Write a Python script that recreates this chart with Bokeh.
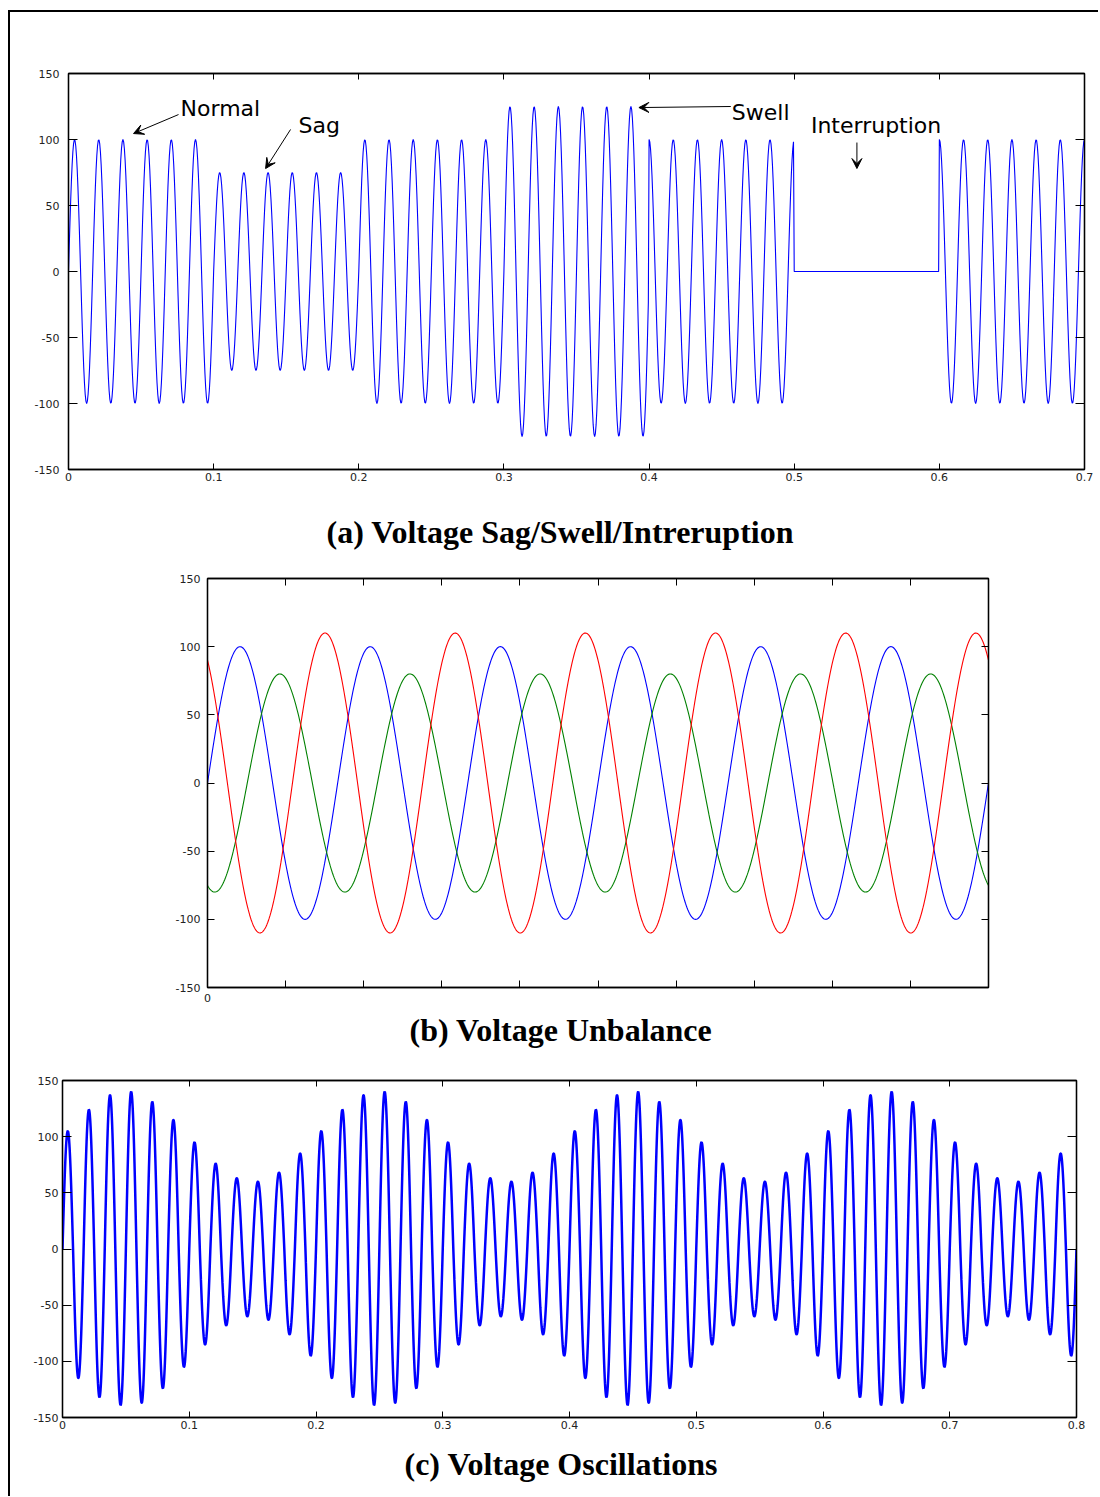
import numpy as np
from bokeh.plotting import figure
from bokeh.models import (LinearAxis, FixedTicker, Range1d, Title, Arrow, VeeHead,
                          ColumnDataSource)
from bokeh.layouts import column
from bokeh.embed import file_html
from bokeh.resources import INLINE
from bokeh.core.properties import value

# ---------------- data ----------------
freq_hz = 60

# (a) sag / swell / interruption : one amplitude and phase per 0.1 s segment
a_seg_start = [0.0, 0.1, 0.2, 0.3, 0.4, 0.5, 0.6]
a_seg_amp = [100, 75, 100, 125, 100, 0, 100]
a_seg_phase_deg = [0, 0, 0, 0, 90, 0, 90]
a_t_end = 0.7015
a_xticks = [0, 0.1, 0.2, 0.3, 0.4, 0.5, 0.6, 0.7]
a_xlabels = ["0", "0.1", "0.2", "0.3", "0.4", "0.5", "0.6", "0.7"]
y_ticks = [-150, -100, -50, 0, 50, 100, 150]
y_labels = ["-150", "-100", "-50", "0", "50", "100", "150"]

a_notes = ["Normal", "Sag", "Swell", "Interruption"]
a_note_x = [0.0772, 0.1585, 0.457, 0.5115]
a_note_y = [123.5, 110.6, 120.5, 110.6]
a_arrow_x0 = [0.0758, 0.153, 0.4563, 0.5432]
a_arrow_y0 = [118.9, 107.6, 125.0, 97.7]
a_arrow_x1 = [0.0448, 0.1358, 0.393, 0.5432]
a_arrow_y1 = [104.5, 78.0, 124.2, 78.0]

# (b) unbalance : three phases
b_amp = [100, 80, 110]
b_phase_deg = [0, 250, 125]
b_colors = ["#0000ff", "#008000", "#ff0000"]
b_xticks = [0, 0.01, 0.02, 0.03, 0.04, 0.05, 0.06, 0.07, 0.08, 0.09, 0.1]
b_labeled_xticks = [0]
b_labeled_xlabels = ["0"]

# (c) oscillations : half-cycle peak magnitudes over one 0.2 s envelope period
c_halfcycle_peak = [105, 115, 124, 132, 137, 139, 140, 137, 131, 124, 115, 105,
                    95, 85, 76, 68, 63, 60, 60, 63, 68, 76, 85, 95]
c_periods = 4
c_xticks = [0, 0.1, 0.2, 0.3, 0.4, 0.5, 0.6, 0.7, 0.8]
c_xlabels = ["0", "0.1", "0.2", "0.3", "0.4", "0.5", "0.6", "0.7", "0.8"]

captions = ["(a) Voltage Sag/Swell/Intreruption", "(b) Voltage Unbalance",
            "(c) Voltage Oscillations"]

# ---------------- waveforms ----------------
w = 2 * np.pi * freq_hz

ta = np.round(np.arange(0, a_t_end, 0.0005), 7)
idx = np.clip(np.searchsorted(np.array(a_seg_start), ta + 1e-9, side="right") - 1, 0, len(a_seg_start) - 1)
amp_a = np.array(a_seg_amp, dtype=float)[idx]
ph_a = np.radians(np.array(a_seg_phase_deg, dtype=float))[idx]
va = amp_a * np.sin(w * ta + ph_a)

tb = np.linspace(0, 0.1, 1001)

tc = np.linspace(0, 0.8, 4001)
peaks_c = np.tile(np.array(c_halfcycle_peak, dtype=float), c_periods)
kc = np.clip((tc * 2 * freq_hz).astype(int), 0, len(peaks_c) - 1)
vc = peaks_c[kc] * np.sin(w * tc)

LABEL_FONT = "DejaVu Sans"
CAP_FONT = "Liberation Serif"
BORDER = "2px solid black"


def hide_labels(ax):
    ax.major_label_text_font_size = "1px"
    ax.major_label_text_color = None
    ax.major_label_standoff = 0


def style(p, xticks, xlabels, x_tick_len, y_tick_len, lab_size, x_standoff, y_standoff):
    p.grid.visible = False
    p.outline_line_color = "black"
    p.outline_line_width = 1.3
    p.background_fill_color = "white"
    p.border_fill_color = "white"
    p.add_layout(LinearAxis(), "above")
    p.add_layout(LinearAxis(), "right")
    for ax in p.xaxis:
        ax.ticker = FixedTicker(ticks=xticks)
        ax.major_tick_in = x_tick_len
        ax.major_tick_out = 0
        ax.minor_tick_line_color = None
        ax.axis_line_color = "black"
        ax.axis_line_width = 1.3
        ax.major_tick_line_color = "black"
        ax.major_label_text_font = LABEL_FONT
        ax.major_label_text_font_size = lab_size
        ax.major_label_text_color = "#222222"
        ax.major_label_standoff = x_standoff
        if xlabels is not None:
            ax.major_label_overrides = {t: l for t, l in zip(xticks, xlabels)}
    for ax in p.yaxis:
        ax.ticker = FixedTicker(ticks=y_ticks)
        ax.major_tick_in = y_tick_len
        ax.major_tick_out = 0
        ax.minor_tick_line_color = None
        ax.axis_line_color = "black"
        ax.axis_line_width = 1.3
        ax.major_tick_line_color = "black"
        ax.major_label_text_font = LABEL_FONT
        ax.major_label_text_font_size = lab_size
        ax.major_label_text_color = "#222222"
        ax.major_label_standoff = y_standoff
        ax.major_label_overrides = {t: l for t, l in zip(y_ticks, y_labels)}
    hide_labels(p.above[0])
    hide_labels(p.right[0])


def caption(p, text, offset, standoff, side, valign="bottom"):
    p.add_layout(Title(text=text, align="left", offset=offset, standoff=standoff,
                       vertical_align=valign,
                       text_font=CAP_FONT, text_font_size="32px",
                       text_font_style="bold", text_color="black"), side)


W = 1088

# ---------------- (a) ----------------
pa = figure(width=W, height=473, x_range=Range1d(0, 0.7), y_range=Range1d(-150, 150),
            output_backend="svg", toolbar_location=None,
            min_border_left=58, min_border_right=14, min_border_top=61, min_border_bottom=16)
style(pa, a_xticks, a_xlabels, 6, 9, "11px", 3, 9)
pa.line(ta, va, line_color="#0000ff", line_width=1.1)
src_n = ColumnDataSource(dict(x=a_note_x, y=a_note_y, t=a_notes))
pa.text(x="x", y="y", text="t", source=src_n, text_font=value(LABEL_FONT),
        text_font_size="22px", text_baseline="middle", text_align="left", text_color="black")
src_ar = ColumnDataSource(dict(x0=a_arrow_x0, y0=a_arrow_y0, x1=a_arrow_x1, y1=a_arrow_y1))
pa.add_layout(Arrow(end=VeeHead(size=10, fill_color="black", line_color="black", line_width=1),
                    x_start="x0", y_start="y0", x_end="x1", y_end="y1", source=src_ar,
                    line_color="black", line_width=1))

# ---------------- (b) ----------------
pb = figure(width=W, height=570, x_range=Range1d(0, 0.1), y_range=Range1d(-150, 150),
            output_backend="svg", toolbar_location=None,
            min_border_left=197, min_border_right=110, min_border_top=93, min_border_bottom=68)
style(pb, b_xticks, None, 7, 7, "11px", 0, 7)
hide_labels(pb.below[0])
extra_b = LinearAxis(ticker=FixedTicker(ticks=b_labeled_xticks),
                     major_label_overrides={t: l for t, l in zip(b_labeled_xticks, b_labeled_xlabels)},
                     axis_line_color=None, major_tick_line_color=None, minor_tick_line_color=None,
                     major_label_text_font=LABEL_FONT, major_label_text_font_size="11px",
                     major_label_text_color="#222222", major_label_standoff=0)
pb.add_layout(extra_b, "below")
for a, ph, c in zip(b_amp, b_phase_deg, b_colors):
    pb.line(tb, a * np.sin(w * tb + np.radians(ph)), line_color=c, line_width=1.1)
caption(pb, captions[0], 326 - 207, 53, "above", "top")
caption(pb, captions[1], 409 - 207, 11, "below")

# ---------------- (c) ----------------
pc = figure(width=W, height=441, x_range=Range1d(0, 0.8), y_range=Range1d(-150, 150),
            output_backend="svg", toolbar_location=None,
            min_border_left=52, min_border_right=22, min_border_top=25, min_border_bottom=79)
style(pc, c_xticks, c_xlabels, 6, 9, "11px", 3, 4)
pc.line(tc, vc, line_color="#0000ff", line_width=2.5)
caption(pc, captions[2], 404 - 62, 25, "below")

ca = column(pa, margin=(10, 0, 0, 8), styles={"border-top": BORDER, "border-left": BORDER})
cb = column(pb, margin=(0, 0, 0, 8), styles={"border-left": BORDER})
cc = column(pc, margin=(0, 0, 0, 8), styles={"border-left": BORDER})

open("out.html", "w").write(file_html([ca, cb, cc], INLINE))
